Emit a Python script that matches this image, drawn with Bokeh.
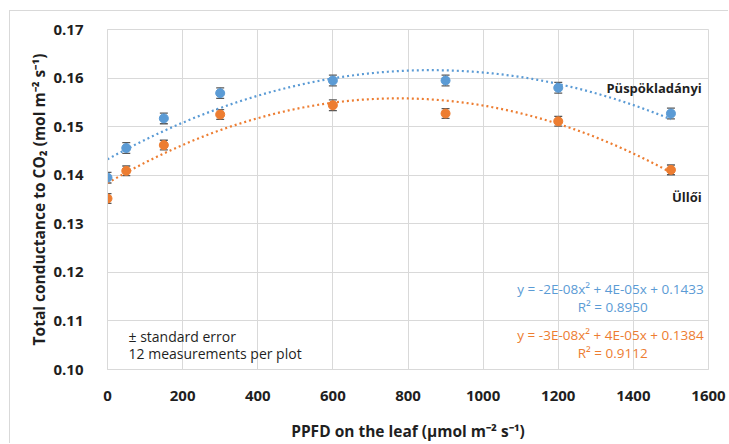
import numpy as np
from bokeh.plotting import figure
from bokeh.models import FixedTicker, NumeralTickFormatter, Label, Range1d, Whisker, ColumnDataSource, TeeHead
from bokeh.embed import file_html
from bokeh.resources import INLINE

ppfd = [0, 50, 150, 300, 600, 900, 1200, 1500]
puspok = [0.1395, 0.1456, 0.1517, 0.1569, 0.1595, 0.1595, 0.1580, 0.1527]
puspok_se = [0.0011, 0.0011, 0.0011, 0.0011, 0.0011, 0.0011, 0.0011, 0.0011]
ulloi = [0.1352, 0.1409, 0.1462, 0.1525, 0.1544, 0.1527, 0.1511, 0.1411]
ulloi_se = [0.0010, 0.0010, 0.0010, 0.0010, 0.0011, 0.0010, 0.0010, 0.0010]
x_ticks = [0, 200, 400, 600, 800, 1000, 1200, 1400, 1600]
y_ticks = [0.10, 0.11, 0.12, 0.13, 0.14, 0.15, 0.16, 0.17]

BLUE = "#5b9bd5"
ORANGE = "#ed7d31"
FONT = "Open Sans"
DARK = "#1f1f1f"

p = figure(width=719, height=433, output_backend="svg", toolbar_location=None,
           x_range=Range1d(0, 1600), y_range=Range1d(0.10, 0.17),
           min_border_left=97, min_border_right=21, min_border_top=18, min_border_bottom=74)
p.styles = {"margin-left": "9px", "margin-top": "10px",
            "border-left": "1px solid #d9d9d9", "border-top": "1px solid #d9d9d9"}
p.outline_line_color = "#d9d9d9"
p.background_fill_color = "white"

for ax in (p.xaxis[0], p.yaxis[0]):
    ax.major_tick_line_color = None
    ax.minor_tick_line_color = None
    ax.axis_line_color = "#d9d9d9"
    ax.major_label_text_font = FONT
    ax.major_label_text_font_style = "bold"
    ax.major_label_text_font_size = "15px"
    ax.major_label_text_color = DARK
    ax.axis_label_text_font = FONT
    ax.axis_label_text_font_style = "bold"
    ax.axis_label_text_font_size = "15.5px"
    ax.axis_label_text_color = DARK

p.xaxis.ticker = FixedTicker(ticks=x_ticks)
p.yaxis.ticker = FixedTicker(ticks=y_ticks)
p.yaxis.formatter = NumeralTickFormatter(format="0.00")
p.xaxis.major_label_standoff = 15
p.yaxis.major_label_standoff = 18
p.xaxis.axis_label = "PPFD on the leaf (μmol m⁻² s⁻¹)"
p.yaxis.axis_label = "Total conductance to CO₂ (mol m⁻² s⁻¹)"
p.xaxis.axis_label_standoff = 16
p.yaxis.axis_label_standoff = 0
p.grid.grid_line_color = "#d9d9d9"
p.grid.grid_line_width = 1

# trend lines (quadratic fits of the data)
xs = np.linspace(0, 1500, 200)
for ys, col in ((puspok, BLUE), (ulloi, ORANGE)):
    c = np.polyfit(ppfd, ys, 2)
    p.line(xs, np.polyval(c, xs), line_color=col, line_width=2.2, line_dash="2 3")

for ys, se, col in ((puspok, puspok_se, BLUE), (ulloi, ulloi_se, ORANGE)):
    src = ColumnDataSource(dict(x=ppfd, y=ys,
                                lo=[a - b for a, b in zip(ys, se)],
                                hi=[a + b for a, b in zip(ys, se)]))
    w = Whisker(source=src, base="x", lower="lo", upper="hi", line_color="#595959", line_width=1,
                upper_head=TeeHead(size=8, line_color="#595959", line_width=1.3),
                lower_head=TeeHead(size=8, line_color="#595959", line_width=1.3))
    p.add_layout(w)
    p.scatter("x", "y", source=src, size=9, fill_color=col, line_color=col)

def lab(x, y, t, color=DARK, align="left", size="13px", style="normal"):
    p.add_layout(Label(x=x, y=y, text=t, text_color=color, text_align=align, text_baseline="middle",
                       text_font=FONT, text_font_size=size, text_font_style=style))

lab(1582, 0.1579, "Püspökladányi", align="right", size="13px", style="bold")
lab(1582, 0.1355, "Üllői", align="right", size="13px", style="bold")
lab(1587, 0.1166, "y = -2E-08x² + 4E-05x + 0.1433", color=BLUE, align="right", size="13.5px")
lab(1345, 0.1129, "R² = 0.8950", color=BLUE, align="center", size="13.5px")
lab(1587, 0.1072, "y = -3E-08x² + 4E-05x + 0.1384", color=ORANGE, align="right", size="13.5px")
lab(1345, 0.1035, "R² = 0.9112", color=ORANGE, align="center", size="13.5px")
lab(56, 0.1068, "± standard error", size="14px")
lab(56, 0.1033, "12 measurements per plot", size="14px")

open("out.html", "w").write(file_html(p, INLINE))
